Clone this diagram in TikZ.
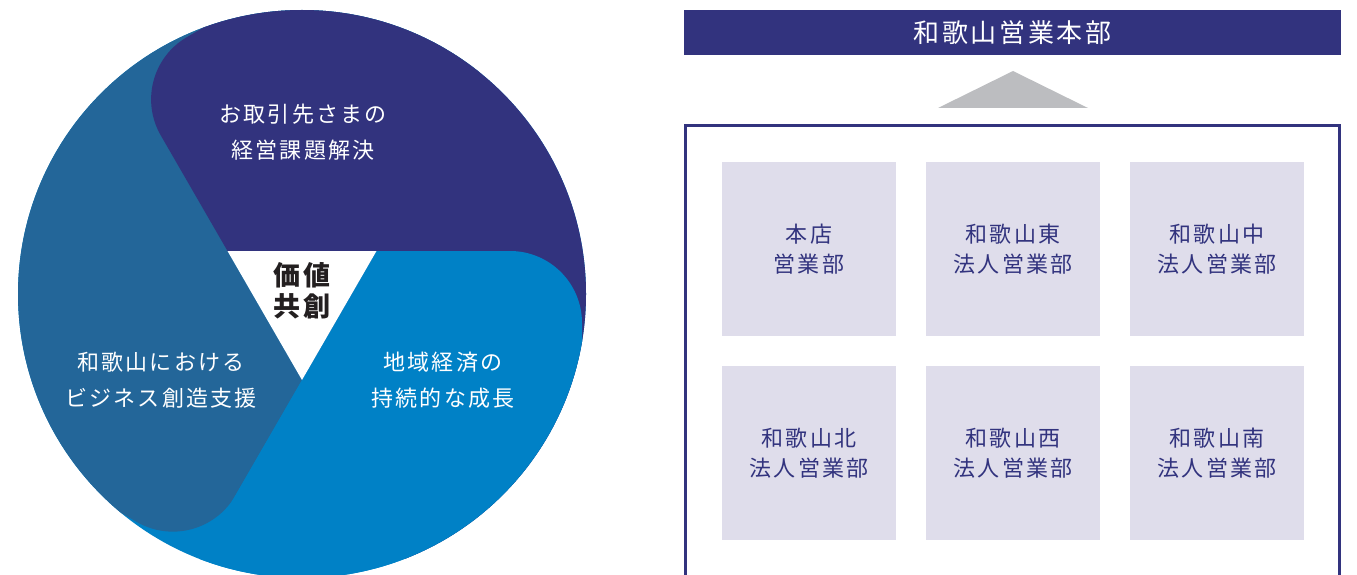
\documentclass[tikz,border=0pt]{standalone}
\usepackage{fontspec}
\newfontfamily\jp[LetterSpace=10]{Noto Sans CJK JP}
\definecolor{navy}{HTML}{32337E}
\definecolor{mblue}{HTML}{236699}
\definecolor{lblue}{HTML}{0081C6}
\definecolor{boxfill}{HTML}{DFDDEB}
\definecolor{arrowgray}{HTML}{BCBDC0}
\definecolor{ink}{HTML}{231F20}
\tikzset{
  RL/.style={insert path={(-600,323) -- (510,323) arc[start angle=90,end angle=0,radius=72pt] -- (582,-900) -- (-600,-900) -- cycle}},
  ctext/.style={text=white, align=center, inner sep=0pt, font=\jp\fontsize{22}{36.5}\selectfont},
  ctr/.style={text=ink, align=center, inner sep=0pt, font=\jp\bfseries\fontsize{27}{31}\selectfont},
  bx/.style={fill=boxfill, minimum width=174pt, minimum height=174pt, inner sep=0pt, align=center, text=navy, font=\jp\fontsize{22}{30}\selectfont},
  hqbar/.style={fill=navy, minimum width=657pt, minimum height=45pt, inner sep=0pt, text=white, font=\jp\fontsize{26}{30}\selectfont}
}
\begin{document}
\begin{tikzpicture}[x=1pt,y=1pt]
\useasboundingbox (0,0) rectangle (1357,574);
\coordinate (C) at (302,280);
% base
\fill[lblue] (C) circle[radius=284pt];
% mid-blue blade
\begin{scope}
  \clip (C) circle[radius=284pt];
  \clip[rotate around={240:(C)}, RL];
  \clip (227.5,323) -- (1500,323) -- (1500,1500) -- (-1500,1500) -- (-1500,-1500) -- (1280.3,-1500) -- cycle;
  \fill[mblue] (-100,-100) rectangle (700,700);
\end{scope}
% navy blade
\begin{scope}
  \clip (C) circle[radius=284pt];
  \clip[rotate around={120:(C)}, RL];
  \clip (376.5,323) -- (-1500,323) -- (-1500,1500) -- (1500,1500) -- (1500,-1500) -- (-676.3,-1500) -- cycle;
  \fill[navy] (-100,-100) rectangle (700,700);
\end{scope}
% light blue blade
\begin{scope}
  \clip (C) circle[radius=284pt];
  \clip[RL];
  \clip (-676.3,-1500) -- (1056.2,1500) -- (2000,1500) -- (2000,-1500) -- cycle;
  \fill[lblue] (-100,-100) rectangle (700,700);
\end{scope}
% centre triangle
\fill[white] (227.5,323) -- (376.5,323) -- (302,194) -- cycle;

\node[ctext] (t1) at (303,442) {お取引先さまの\\経営課題解決};
\node[ctext] (t2) at (161,194) {和歌山における\\ビジネス創造支援};
\node[ctext] (t3) at (443,194) {地域経済の\\持続的な成長};
\node[ctr] (t0) at (302,283) {価値\\共創};

% right side
\node[hqbar] (hq) at (1012.5,541.5) {和歌山営業本部};
\fill[arrowgray] (938,466) -- (1013,503) -- (1088,466) -- cycle;
\draw[navy, line width=3pt] (685.5,-20) rectangle (1339.5,448.5);

\node[bx] (b1) at (809,325) {本店\\営業部};
\node[bx] (b2) at (1013,325) {和歌山東\\法人営業部};
\node[bx] (b3) at (1217,325) {和歌山中\\法人営業部};
\node[bx] (b4) at (809,121) {和歌山北\\法人営業部};
\node[bx] (b5) at (1013,121) {和歌山西\\法人営業部};
\node[bx] (b6) at (1217,121) {和歌山南\\法人営業部};
\end{tikzpicture}
\end{document}
